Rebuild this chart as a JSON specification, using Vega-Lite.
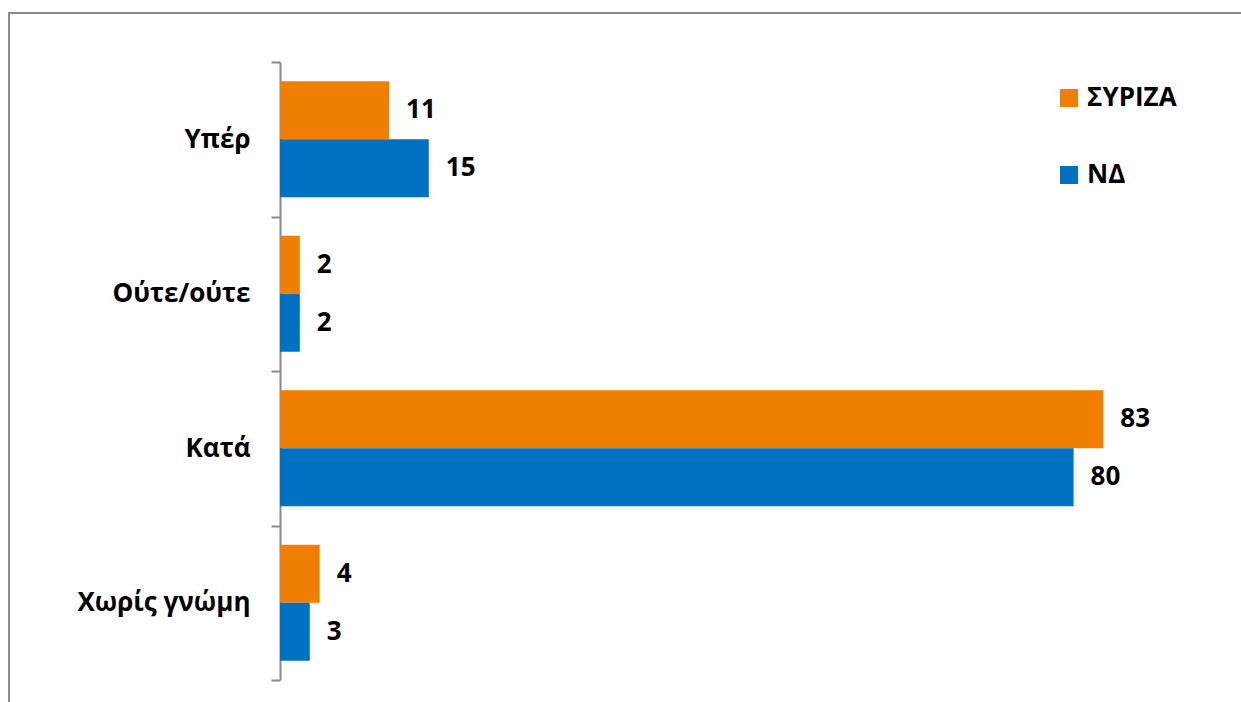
{
  "$schema": "https://vega.github.io/schema/vega-lite/v6.json",
  "width": 1234,
  "height": 691,
  "autosize": {"type": "none"},
  "padding": {"left": 9, "top": 13, "right": -2, "bottom": -2},
  "background": "white",
  "config": {"view": {"stroke": "#8c8c8c", "strokeWidth": 2}, "font": "Open Sans"},
  "data": {
    "values": [
      {"cat": "Υπέρ", "party": "ΣΥΡΙΖΑ", "value": 11},
      {"cat": "Υπέρ", "party": "ΝΔ", "value": 15},
      {"cat": "Ούτε/ούτε", "party": "ΣΥΡΙΖΑ", "value": 2},
      {"cat": "Ούτε/ούτε", "party": "ΝΔ", "value": 2},
      {"cat": "Κατά", "party": "ΣΥΡΙΖΑ", "value": 83},
      {"cat": "Κατά", "party": "ΝΔ", "value": 80},
      {"cat": "Χωρίς γνώμη", "party": "ΣΥΡΙΖΑ", "value": 4},
      {"cat": "Χωρίς γνώμη", "party": "ΝΔ", "value": 3}
    ]
  },
  "encoding": {
    "y": {
      "field": "cat",
      "type": "nominal",
      "sort": ["Υπέρ", "Ούτε/ούτε", "Κατά", "Χωρίς γνώμη"],
      "scale": {"range": [49, 667], "paddingInner": 0, "paddingOuter": 0},
      "axis": {
        "title": null,
        "orient": "left",
        "offset": -271,
        "domainColor": "#898989",
        "domainWidth": 2,
        "tickColor": "#898989",
        "tickWidth": 2,
        "tickSize": 9,
        "tickBand": "extent",
        "labelFontSize": 26,
        "labelFontWeight": "bold",
        "labelColor": "black",
        "labelPadding": 21
      }
    },
    "yOffset": {
      "field": "party",
      "sort": ["ΣΥΡΙΖΑ", "ΝΔ"],
      "scale": {"paddingInner": 0, "paddingOuter": 0.332}
    }
  },
  "layer": [
    {
      "mark": {"type": "bar"},
      "encoding": {
        "x": {
          "field": "value",
          "type": "quantitative",
          "scale": {"domain": [0, 100], "range": [271, 1263]},
          "axis": null
        },
        "color": {
          "field": "party",
          "type": "nominal",
          "scale": {"domain": ["ΣΥΡΙΖΑ", "ΝΔ"], "range": ["#EE7F00", "#0070C0"]},
          "legend": {
            "orient": "none",
            "legendX": 1047,
            "legendY": 72,
            "title": null,
            "symbolType": "square",
            "symbolSize": 324,
            "symbolStrokeWidth": 0,
            "labelFontSize": 26,
            "labelFontWeight": "bold",
            "labelColor": "black",
            "labelOffset": 5,
            "rowPadding": 51
          }
        }
      }
    },
    {
      "mark": {"type": "text", "align": "left", "baseline": "middle", "dx": 17, "fontSize": 26, "fontWeight": "bold", "color": "black"},
      "encoding": {
        "x": {"field": "value", "type": "quantitative"},
        "text": {"field": "value", "type": "quantitative"}
      }
    }
  ]
}
